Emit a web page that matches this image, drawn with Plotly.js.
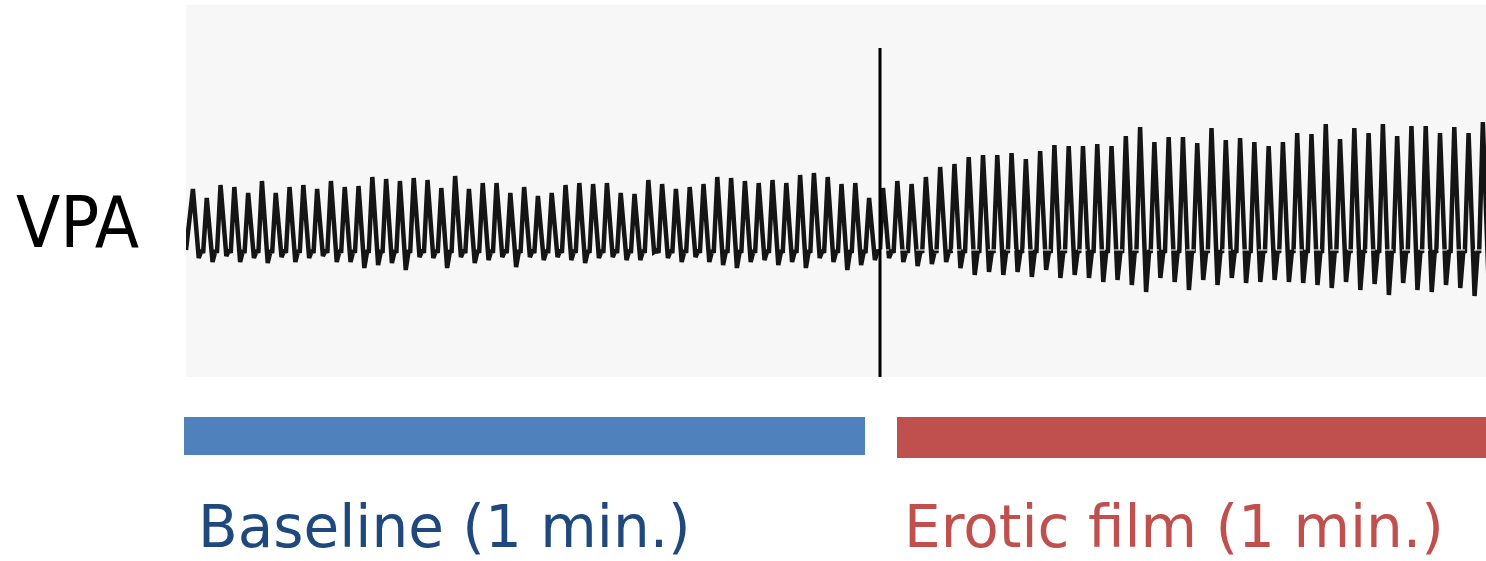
<!DOCTYPE html>
<html>
<head>
<meta charset="utf-8">
<script src="https://cdn.plot.ly/plotly-3.0.1.min.js"></script>
<style>
  html, body { margin: 0; padding: 0; background: #ffffff; }
  #chart { width: 1486px; height: 561px; }
</style>
</head>
<body>
<div id="chart"></div>
<script>
// ---- Data (amplitude units; 0 = resting level) ----
// Peak heights of each pulse during the baseline minute
const baselinePeaks = [61,52,65,63,57,69,57,63,65,61,69,63,64,73,71,69,
  72,70,62,74,61,67,67,57,63,54,57,65,67,66,67,57,56,70,
  66,61,63,66,73,72,69,67,70,67,75,77,73,66,67,52];
// Trough depths following each baseline pulse
const baselineTroughs = [-8,-12,-6,-12,-8,-13,-7,-12,-8,-6,-12,-12,-18,-15,-13,-20,
  -7,-8,-18,-7,-13,-10,-7,-17,-7,-10,-7,-10,-13,-8,-7,-10,-10,-2,
  -8,-12,-7,-12,-15,-18,-12,-10,-15,-12,-18,-8,-12,-20,-15,-10];
// Peak heights of each pulse during the erotic film minute
const filmPeaks = [62,69,66,73,83,86,93,95,95,97,91,99,105,104,
  104,106,104,114,123,108,113,113,107,122,110,112,108,104,108,
  117,116,126,111,122,117,126,114,124,124,117,123,117,128];
// Trough depths following each film pulse
const filmTroughs = [-8,-12,-16,-14,-12,-18,-25,-22,-25,-22,-27,-20,-28,-25,
  -28,-32,-30,-35,-42,-28,-32,-40,-30,-35,-28,-33,-32,-30,-32,
  -33,-35,-38,-32,-40,-34,-45,-33,-40,-42,-35,-38,-46,-40];
const notchLevel = 0;     // level of the dicrotic notch / resting line
const notchDip = -3;
const segments = ["Baseline (1 min.)", "Erotic film (1 min.)"];
const segmentMinutes = [1, 1];
const yLabel = "VPA";
const markerTop = 202;    // top of the film-onset marker line

// beat timing (seconds) within each minute
const baselineFirstBeat = 0.6, baselinePeriod = 1.193;
const filmFirstBeat = 60.3, filmPeriod = 1.414;

const yRange = [-127, 245];

function buildWave(peaks, troughs, first, period, tStart, tEnd) {
  const x = [tStart], y = [notchLevel];
  for (let i = 0; i < peaks.length; i++) {
    const t = first + i * period;
    x.push(t);                   y.push(peaks[i]);
    x.push(t + 0.42 * period);   y.push(troughs[i]);
    x.push(t + 0.64 * period);   y.push(notchLevel);
    x.push(t + 0.74 * period);   y.push(notchDip);
  }
  x.push(tEnd); y.push(notchLevel);
  return {x, y};
}

const bw = buildWave(baselinePeaks, baselineTroughs, baselineFirstBeat, baselinePeriod, 0, 60);
const fw = buildWave(filmPeaks, filmTroughs, filmFirstBeat, filmPeriod, 60, 120);
const onset = 60 * segmentMinutes[0];

const traceStyle = {color: '#151515', width: 4.5, shape: 'linear'};
const data = [
  {type: 'scatter', mode: 'lines', x: bw.x, y: bw.y, xaxis: 'x', yaxis: 'y',
   line: traceStyle, hoverinfo: 'skip', showlegend: false},
  {type: 'scatter', mode: 'lines', x: fw.x, y: fw.y, xaxis: 'x2', yaxis: 'y',
   line: traceStyle, hoverinfo: 'skip', showlegend: false},
  {type: 'scatter', mode: 'lines', x: [onset, 120], y: [notchLevel, notchLevel], xaxis: 'x2', yaxis: 'y',
   line: {color: '#ffffff', width: 1, dash: 'dash'}, hoverinfo: 'skip', showlegend: false}
];

const split = (880 - 186) / 1300;
const labelFont = '"DejaVu Sans", sans-serif';
const vpaFont = '"DejaVu Sans Condensed", "DejaVu Sans", sans-serif';

const layout = {
  width: 1486, height: 561,
  margin: {l: 186, r: 0, t: 5, b: 184, pad: 0},
  paper_bgcolor: '#ffffff',
  plot_bgcolor: '#f7f7f7',
  showlegend: false,
  xaxis: {domain: [0, split], range: [0, onset], visible: false, fixedrange: true},
  xaxis2: {domain: [split, 1], range: [onset, onset + 60 * segmentMinutes[1]], visible: false, fixedrange: true, anchor: 'y'},
  yaxis: {range: yRange, visible: false, fixedrange: true},
  shapes: [
    {type: 'rect', xref: 'paper', yref: 'paper', x0: 0, x1: 1, y0: 0, y1: 1,
     fillcolor: '#f7f7f7', line: {width: 0}, layer: 'below'},
    // film-onset marker at the boundary between the two minutes
    {type: 'line', xref: 'paper', yref: 'y', x0: split, x1: split, y0: yRange[0], y1: markerTop,
     line: {color: '#000000', width: 3}, layer: 'above'},
    {type: 'rect', xref: 'paper', yref: 'paper', x0: (184 - 186) / 1300, x1: (865 - 186) / 1300,
     y0: (377 - 455) / 372, y1: (377 - 417) / 372, fillcolor: '#4f81bd', line: {width: 0}},
    {type: 'rect', xref: 'paper', yref: 'paper', x0: (897 - 186) / 1300, x1: 1,
     y0: (377 - 458) / 372, y1: (377 - 417) / 372, fillcolor: '#c0504d', line: {width: 0}}
  ],
  annotations: [
    {text: yLabel, xref: 'paper', yref: 'paper', x: (77 - 186) / 1300, y: (377 - 222) / 372,
     xanchor: 'center', yanchor: 'middle', showarrow: false,
     font: {family: vpaFont, size: 72, color: '#000000'}},
    {text: segments[0], xref: 'paper', yref: 'paper', x: (196 - 186) / 1300, y: (377 - 527) / 372,
     xanchor: 'left', yanchor: 'middle', showarrow: false,
     font: {family: labelFont, size: 58, color: '#1f497d'}},
    {text: segments[1], xref: 'paper', yref: 'paper', x: (902 - 186) / 1300, y: (377 - 527) / 372,
     xanchor: 'left', yanchor: 'middle', showarrow: false,
     font: {family: labelFont, size: 58, color: '#c0504d'}}
  ]
};

Plotly.newPlot('chart', data, layout, {staticPlot: true, displayModeBar: false});
</script>
</body>
</html>
